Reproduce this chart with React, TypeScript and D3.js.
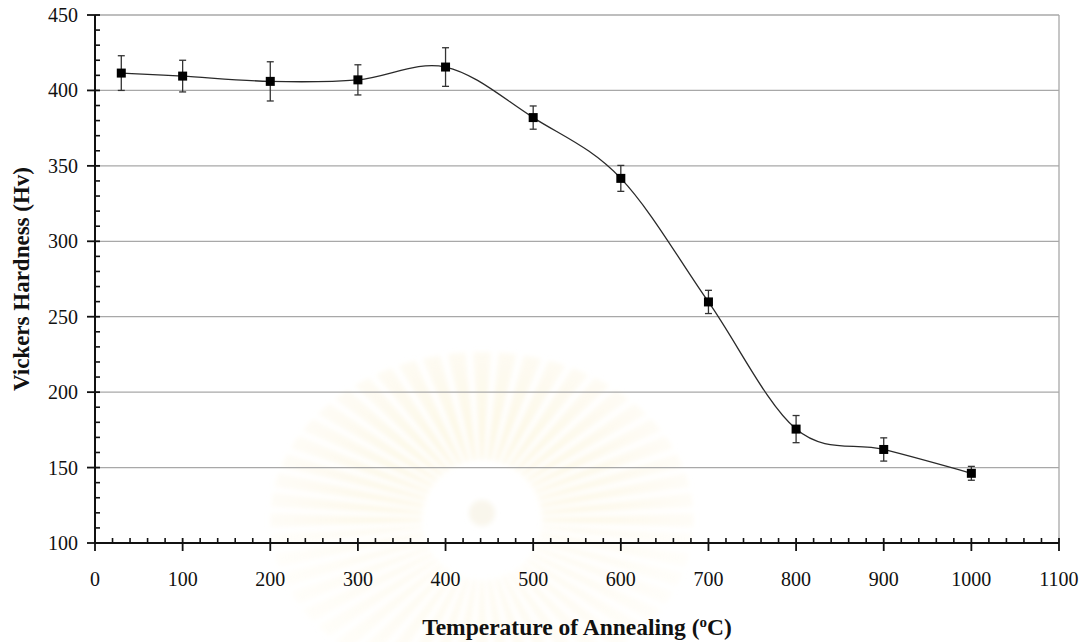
import React from "react";
import * as d3 from "d3";

// Annealing temperature (°C) vs. Vickers hardness (Hv), mean ± error
const temperatures = [30, 100, 200, 300, 400, 500, 600, 700, 800, 900, 1000];
const hardness = [411.5, 409.5, 406, 407, 415.5, 382, 341.7, 259.8, 175.5, 162, 146.2];
const errors = [11.5, 10.5, 13, 10, 12.8, 7.7, 8.6, 7.7, 9, 7.7, 4.6];

const xTicks = [0, 100, 200, 300, 400, 500, 600, 700, 800, 900, 1000, 1100];
const yTicks = [100, 150, 200, 250, 300, 350, 400, 450];

const W = 1089;
const H = 642;
const M = { left: 95, right: 1059, top: 15, bottom: 543 };

export default function App() {
  const x = d3.scaleLinear().domain([0, 1100]).range([M.left, M.right]);
  const y = d3.scaleLinear().domain([100, 450]).range([M.bottom, M.top]);

  const pts = temperatures.map((t, i) => [x(t), y(hardness[i])] as [number, number]);
  const line = d3.line().curve(d3.curveCatmullRom.alpha(0))(pts) || "";

  const xMinor = d3.range(0, 1101, 20).filter((v) => v % 100 !== 0);
  const yMinor = d3.range(100, 451, 10).filter((v) => v % 50 !== 0);

  // faint sunburst emblem in the background
  const cx = 482;
  const cy = 520;
  const nRays = 52;
  const rays = d3.range(0, nRays).map((i) => (i / nRays) * 2 * Math.PI);
  const rayPath = (a: number) => {
    const r0 = 60;
    const rx = 212;
    const ry = 168;
    const w0 = 0.022;
    const w1 = 0.042;
    const p1 = [cx + r0 * Math.cos(a - w0), cy + r0 * Math.sin(a - w0)];
    const p2 = [cx + r0 * Math.cos(a + w0), cy + r0 * Math.sin(a + w0)];
    const p3 = [cx + rx * Math.cos(a + w1), cy + ry * Math.sin(a + w1)];
    const p4 = [cx + rx * Math.cos(a - w1), cy + ry * Math.sin(a - w1)];
    return `M${p1}L${p4}L${p3}L${p2}Z`;
  };

  const serif = "'Liberation Serif', 'Times New Roman', serif";

  return (
    <svg width={W} height={H} style={{ position: "absolute", left: 0, top: 0 }}>
      <defs>
        <filter id="soft" x="-20%" y="-20%" width="140%" height="140%">
          <feGaussianBlur stdDeviation="2.5" />
        </filter>
        <radialGradient id="rayFill" cx={cx} cy={cy} r="215" gradientUnits="userSpaceOnUse">
          <stop offset="0.3" stopColor="#fbf2d2" stopOpacity="0.75" />
          <stop offset="1" stopColor="#fcf7e6" stopOpacity="0.35" />
        </radialGradient>
      </defs>
      <rect x={0} y={0} width={W} height={H} fill="#fff" />

      <g filter="url(#soft)">
        {rays.map((a, i) => (
          <path
            key={i}
            d={rayPath(a)}
            fill="url(#rayFill)"
            opacity={Math.sin(a) > 0.05 ? 0.5 : 0.9}
          />
        ))}
        <circle cx={cx} cy={cy - 7} r={13} fill="#f9f6ec" />
      </g>

      {/* horizontal gridlines */}
      {yTicks.filter((v) => v > 100).map((v) => (
        <line key={v} x1={M.left} x2={M.right} y1={y(v)} y2={y(v)} stroke="#a8a8a8" strokeWidth={1.3} />
      ))}
      <line x1={M.right} x2={M.right} y1={M.top} y2={M.bottom} stroke="#a8a8a8" strokeWidth={1.3} />

      {/* axes */}
      <line x1={M.left} x2={M.right} y1={M.bottom} y2={M.bottom} stroke="#111" strokeWidth={2} />
      <line x1={M.left} x2={M.left} y1={M.top} y2={M.bottom} stroke="#111" strokeWidth={2} />

      {xMinor.map((v) => (
        <line key={"xm" + v} x1={x(v)} x2={x(v)} y1={M.bottom - 5} y2={M.bottom} stroke="#111" strokeWidth={1.6} />
      ))}
      {xTicks.map((v) => (
        <line key={"xt" + v} x1={x(v)} x2={x(v)} y1={M.bottom - 5} y2={M.bottom + 8} stroke="#111" strokeWidth={1.8} />
      ))}
      {yMinor.map((v) => (
        <line key={"ym" + v} x1={M.left} x2={M.left + 5} y1={y(v)} y2={y(v)} stroke="#111" strokeWidth={1.6} />
      ))}
      {yTicks.map((v) => (
        <line key={"yt" + v} x1={M.left - 8} x2={M.left + 5} y1={y(v)} y2={y(v)} stroke="#111" strokeWidth={1.8} />
      ))}

      {xTicks.map((v) => (
        <text key={"xl" + v} x={x(v)} y={586} textAnchor="middle" fontFamily={serif} fontSize={20} fill="#111">
          {v}
        </text>
      ))}
      {yTicks.map((v) => (
        <text key={"yl" + v} x={78} y={y(v) + 7} textAnchor="end" fontFamily={serif} fontSize={20} fill="#111">
          {v}
        </text>
      ))}

      <text x={577} y={635} textAnchor="middle" fontFamily={serif} fontSize={23.5} fontWeight="bold" fill="#111">
        Temperature of Annealing (<tspan dy={-8} fontSize={15}>o</tspan>
        <tspan dy={8}>C)</tspan>
      </text>
      <text
        transform={`translate(29, ${(M.top + M.bottom) / 2}) rotate(-90)`}
        textAnchor="middle"
        fontFamily={serif}
        fontSize={23}
        fontWeight="bold"
        fill="#111"
      >
        Vickers Hardness (Hv)
      </text>

      {/* smoothed curve */}
      <path d={line} fill="none" stroke="#2a2a2a" strokeWidth={1.3} />

      {/* error bars */}
      {temperatures.map((t, i) => {
        const px = x(t);
        const yt = y(hardness[i] + errors[i]);
        const yb = y(hardness[i] - errors[i]);
        return (
          <g key={"e" + i} stroke="#333" strokeWidth={1.3}>
            <line x1={px} x2={px} y1={yt} y2={yb} />
            <line x1={px - 3.5} x2={px + 3.5} y1={yt} y2={yt} />
            <line x1={px - 3.5} x2={px + 3.5} y1={yb} y2={yb} />
          </g>
        );
      })}

      {/* markers */}
      {temperatures.map((t, i) => (
        <rect key={"m" + i} x={x(t) - 4.5} y={y(hardness[i]) - 4.5} width={9} height={9} fill="#000" />
      ))}
    </svg>
  );
}
